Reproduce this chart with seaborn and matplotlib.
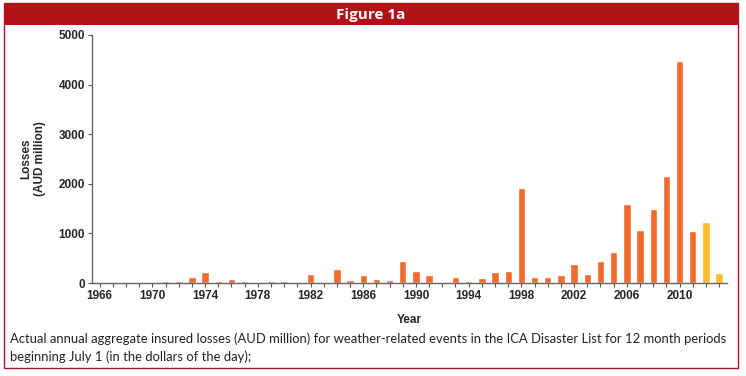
import matplotlib
matplotlib.use("Agg")
import matplotlib.pyplot as plt
from matplotlib.patches import Rectangle
import pandas as pd
import seaborn as sns

# annual insured losses, AUD million
years = list(range(1966, 2014))
losses = [20, 20, 0, 20, 20, 35, 35, 115, 215, 45,
          80, 45, 15, 35, 45, 0, 180, 15, 280, 70,
          155, 75, 60, 435, 240, 155, 0, 125, 45, 95,
          220, 240, 1910, 115, 125, 155, 390, 175, 440, 630,
          1590, 1075, 1495, 2165, 4470, 1045, 1235, 210]
kind = ["actual"] * 46 + ["recent"] * 2
tick_years = list(range(1966, 2011, 4))

df = pd.DataFrame({"year": years, "loss": losses, "kind": kind})

sns.set_style("white")
plt.rcParams["font.family"] = ["Liberation Sans", "DejaVu Sans"]

fig = plt.figure(figsize=(7.46, 3.76), dpi=100)
W, H = 746, 376

# red border and title banner
fig.patches.append(Rectangle((4 / W, 1 - 368 / H), 734 / W, 365 / H,
                             transform=fig.transFigure, fill=False,
                             edgecolor="#a8122a", linewidth=1.0))
fig.patches.append(Rectangle((4 / W, 1 - 25 / H), 734 / W, 22 / H,
                             transform=fig.transFigure, facecolor="#b01218",
                             edgecolor="none"))
fig.text(371 / W, 1 - 14.5 / H, "Figure 1a", color="white", fontsize=11,
         fontweight="bold", family=["Open Sans", "DejaVu Sans"],
         ha="center", va="center")

ax = fig.add_axes([92 / W, 1 - 283 / H, 635 / W, 248 / H])
sns.barplot(data=df, x="year", y="loss", hue="kind", dodge=False,
            palette={"actual": "#f26a2e", "recent": "#fbbd2e"},
            saturation=1, width=0.56, legend=False, ax=ax)

ax.set_ylim(0, 5000)
ax.set_xlim(-0.58, 47.6)
ax.set_yticks([0, 1000, 2000, 3000, 4000, 5000])
ax.set_xticks(range(len(years)))
ax.set_xticklabels([str(y) if y in tick_years else "" for y in years])
for lab in ax.get_xticklabels() + ax.get_yticklabels():
    lab.set_fontweight("bold")
    lab.set_fontsize(8.5)
ax.tick_params(axis="both", which="both", direction="out", length=3,
               width=0.8, color="#555555", pad=2, left=True, bottom=True)

for s in ["top", "right"]:
    ax.spines[s].set_visible(False)
for s in ["left", "bottom"]:
    ax.spines[s].set_color("#666666")
    ax.spines[s].set_linewidth(1.0)

ax.set_xlabel("Year", fontsize=8.5, fontweight="bold", labelpad=9)
ax.set_ylabel("Losses\n(AUD million)", fontsize=8.5, fontweight="bold",
              labelpad=9)

cap_font = ["Lato", "DejaVu Sans"]
fig.text(10 / W, 1 - 339 / H,
         "Actual annual aggregate insured losses (AUD million) for weather-related "
         "events in the ICA Disaster List for 12 month periods",
         fontsize=9.4, family=cap_font, color="#222222", va="center")
fig.text(10 / W, 1 - 357 / H, "beginning July 1 (in the dollars of the day);",
         fontsize=9.4, family=cap_font, color="#222222", va="center")

fig.savefig("out.png", dpi=100)
